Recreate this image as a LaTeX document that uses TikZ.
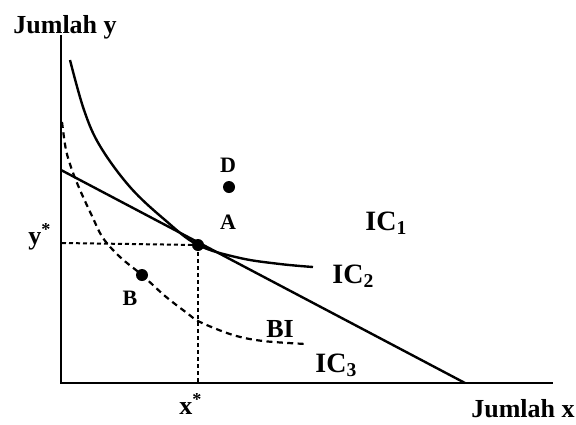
\documentclass[tikz,border=0pt]{standalone}
\usepackage{fontspec}
\setmainfont{Liberation Serif}
\begin{document}
\begin{tikzpicture}[x=0.5pt,y=-0.5pt,
  axis/.style={line width=1.1pt},
  curve/.style={line width=1.2pt},
  dcurve/.style={line width=1.1pt, dash pattern=on 3pt off 2.2pt},
  guide/.style={line width=1pt, dash pattern=on 2pt off 1.5pt},
  dot/.style={circle, fill=black, inner sep=0pt, minimum size=6pt},
  lbl/.style={font=\fontsize{11}{13}\selectfont\bfseries, inner sep=0pt},
  starlbl/.style={font=\fontsize{13}{15}\selectfont\bfseries, inner sep=0pt},
  axlbl/.style={font=\fontsize{13}{15}\selectfont\bfseries, inner sep=0pt},
  iclbl/.style={font=\fontsize{14}{16}\selectfont\bfseries, inner sep=0pt}]
\useasboundingbox (0,0) rectangle (576,424);
% axes
\coordinate (O) at (61,383);
\coordinate (Ytop) at (61,35);
\coordinate (Xend) at (553,383);
\draw[axis] (Ytop) -- (O) -- (Xend);
% budget line
\coordinate (Bud1) at (61,170);
\coordinate (Bud2) at (465,383);
\draw[curve] (Bud1) -- (Bud2);
% points
\node[dot] (A) at (198,245) {};
\node[dot] (B) at (142,275) {};
\node[dot] (D) at (229,187) {};
% guides
\coordinate (Ystar) at (62,243);
\coordinate (Xstar) at (198,383);
\draw[guide] (Ystar) -- (A.center);
\draw[guide] (A.center) -- (Xstar);
% IC2 (solid)
\draw[curve] plot[smooth, tension=0.6] coordinates {(70,60) (84,110) (100,146) (130,187) (165,220) (198,245) (240,258) (280,264) (313,267)};
% IC3 (dashed)
\draw[dcurve] plot[smooth, tension=0.55] coordinates {(62,122) (66,150) (72,170) (80,190) (92,216) (103,238) (120,257) (142,275) (165,296) (187,313) (200,322) (233,335) (263,341) (306,344)};
% labels
\node[axlbl, anchor=base west] (ly) at (13,33) {Jumlah y};
\node[axlbl, anchor=base east] (lx) at (575,417) {Jumlah x};
\node[starlbl] (lys) at (40,237) {y\textsuperscript{*}};
\node[starlbl] (lxs) at (191,404) {x\textsuperscript{*}};
\node[lbl] (lD) at (228,165) {D};
\node[lbl] (lA) at (228,222) {A};
\node[lbl] (lB) at (130,298) {B};
\node[axlbl, anchor=base west] (lBI) at (266,337) {BI};
\node[iclbl, anchor=base west] (l1) at (365,230) {IC\textsubscript{1}};
\node[iclbl, anchor=base west] (l2) at (332,283) {IC\textsubscript{2}};
\node[iclbl, anchor=base west] (l3) at (315,372) {IC\textsubscript{3}};
\end{tikzpicture}
\end{document}
